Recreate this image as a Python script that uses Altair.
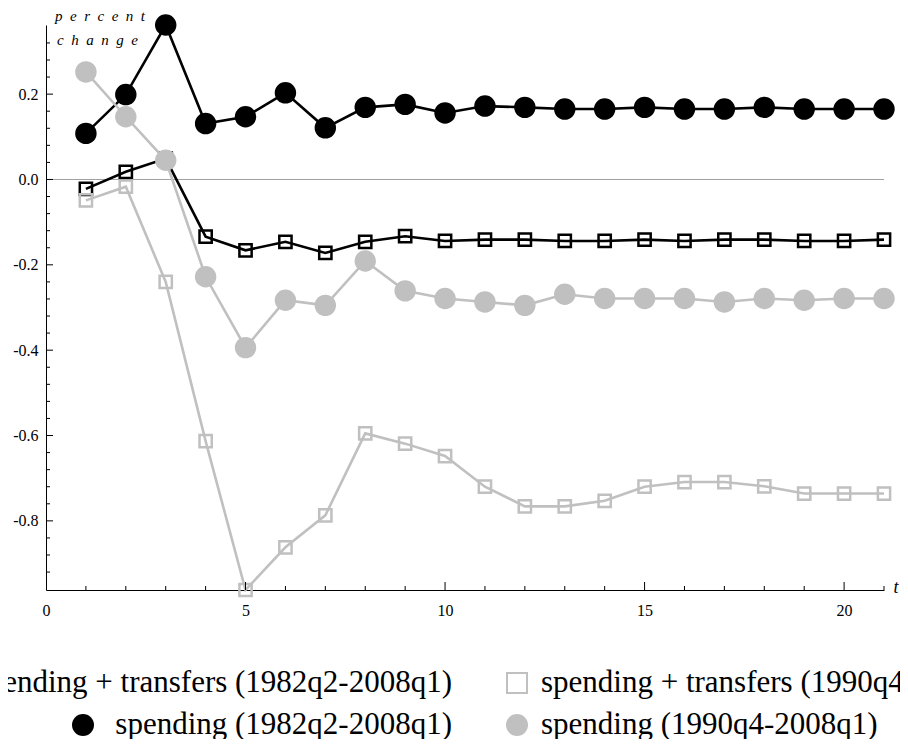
import altair as alt
import pandas as pd

# ---------------- data ----------------
t = list(range(1, 22))
spend_trans_8208 = [-0.022, 0.018, 0.049, -0.134, -0.166, -0.146, -0.172, -0.146, -0.133, -0.144,
                    -0.141, -0.141, -0.144, -0.144, -0.141, -0.144, -0.141, -0.141, -0.144, -0.144, -0.141]
spend_trans_9008 = [-0.049, -0.017, -0.240, -0.613, -0.962, -0.862, -0.787, -0.595, -0.619, -0.648,
                    -0.720, -0.766, -0.766, -0.753, -0.720, -0.709, -0.709, -0.719, -0.736, -0.736, -0.736]
spend_8208 = [0.108, 0.199, 0.362, 0.131, 0.147, 0.203, 0.121, 0.169, 0.176, 0.156,
              0.172, 0.169, 0.165, 0.165, 0.169, 0.165, 0.165, 0.169, 0.165, 0.165, 0.165]
spend_9008 = [0.252, 0.147, 0.045, -0.228, -0.394, -0.283, -0.295, -0.191, -0.261, -0.279,
              -0.287, -0.295, -0.269, -0.279, -0.279, -0.279, -0.287, -0.279, -0.283, -0.279, -0.279]

series_names = [
    "spending + transfers (1982q2-2008q1)",
    "spending + transfers (1990q4-2008q1)",
    "spending (1982q2-2008q1)",
    "spending (1990q4-2008q1)",
]
series_values = [spend_trans_8208, spend_trans_9008, spend_8208, spend_9008]

x_label_values = [0, 5, 10, 15, 20]
x_major_ticks = [5, 10, 15, 20]
x_minor_ticks = [1, 2, 3, 4, 6, 7, 8, 9, 11, 12, 13, 14, 16, 17, 18, 19, 21]
y_label_values = [-0.8, -0.6, -0.4, -0.2, 0.0, 0.2]
y_major_ticks = [-0.8, -0.6, -0.4, -0.2, 0.0, 0.2]
y_minor_ticks = [-0.92, -0.88, -0.84, -0.76, -0.72, -0.68, -0.64, -0.56, -0.52, -0.48, -0.44,
                 -0.36, -0.32, -0.28, -0.24, -0.16, -0.12, -0.08, -0.04, 0.04, 0.08, 0.12,
                 0.16, 0.24, 0.28, 0.32]

# ---------------- styles / layout ----------------
W, H = 838, 565
FONT = "Liberation Serif"
GRAY = "#c0c0c0"
TICK_FS = 16
styles = [
    dict(color="black", shape="square", filled=False, size=150, sw=2.5),
    dict(color=GRAY, shape="square", filled=False, size=150, sw=2.5),
    dict(color="black", shape="circle", filled=True, size=460, sw=0),
    dict(color=GRAY, shape="circle", filled=True, size=460, sw=0),
]

rows = []
for name, vals in zip(series_names, series_values):
    for ti, v in zip(t, vals):
        rows.append({"t": ti, "value": v, "series": name})
df = pd.DataFrame(rows)

all_vals = [v for s in series_values for v in s]
ymin, ymax = min(all_vals), max(all_vals)

xs = alt.Scale(domain=[0, 21], nice=False, zero=False)
ys = alt.Scale(domain=[ymin, ymax], nice=False, zero=False)

x_axis = alt.Axis(values=x_label_values, ticks=False, tickSize=0, labelPadding=12,
                  domainColor="black", domainWidth=1, labelFont=FONT, labelFontSize=TICK_FS,
                  labelColor="black", grid=False, title=None, labelFlush=False,
                  labelOverlap=False, format="d")
y_axis = alt.Axis(values=y_label_values, ticks=False, tickSize=0, labelPadding=8,
                  domainColor="black", domainWidth=1, labelFont=FONT, labelFontSize=TICK_FS,
                  labelColor="black", grid=False, title=None, labelFlush=False,
                  labelOverlap=False,
                  labelExpr="datum.value < 0 ? '-' + format(-datum.value, '.1f') : format(datum.value, '.1f')")

X = alt.X("t:Q", scale=xs, axis=x_axis)
Y = alt.Y("value:Q", scale=ys, axis=y_axis)

layers = []

# zero reference line
zero = alt.Chart(pd.DataFrame({"z": [0.0]})).mark_rule(color="#a0a0a0", strokeWidth=1).encode(
    y=alt.Y("z:Q", scale=ys, axis=y_axis), x=alt.value(0), x2=alt.value(W))
layers.append(zero)

# series: line then markers, in reference drawing order
for name, st in zip(series_names, styles):
    d = df[df["series"] == name]
    line = alt.Chart(d).mark_line(color=st["color"], strokeWidth=2.6).encode(x=X, y=Y)
    if st["filled"]:
        pts = alt.Chart(d).mark_point(shape=st["shape"], filled=True, size=st["size"],
                                      color=st["color"], opacity=1).encode(x=X, y=Y)
    else:
        pts = alt.Chart(d).mark_point(shape=st["shape"], filled=False, size=st["size"],
                                      stroke=st["color"], strokeWidth=st["sw"], opacity=1).encode(x=X, y=Y)
    layers += [line, pts]

# inward ticks
layers.append(alt.Chart(pd.DataFrame({"v": y_major_ticks})).mark_rule(color="black", strokeWidth=1).encode(
    y=alt.Y("v:Q", scale=ys, axis=y_axis), x=alt.value(0), x2=alt.value(7)))
layers.append(alt.Chart(pd.DataFrame({"v": y_minor_ticks})).mark_rule(color="black", strokeWidth=1).encode(
    y=alt.Y("v:Q", scale=ys, axis=y_axis), x=alt.value(0), x2=alt.value(4)))
layers.append(alt.Chart(pd.DataFrame({"v": x_major_ticks})).mark_rule(color="black", strokeWidth=1).encode(
    x=alt.X("v:Q", scale=xs, axis=x_axis), y=alt.value(H), y2=alt.value(H - 8)))
layers.append(alt.Chart(pd.DataFrame({"v": x_minor_ticks})).mark_rule(color="black", strokeWidth=1).encode(
    x=alt.X("v:Q", scale=xs, axis=x_axis), y=alt.value(H), y2=alt.value(H - 4)))

# axis titles (letter-spaced italic, as in the reference)
SP = "\u2002"
title_df = pd.DataFrame({"s": [SP.join("percent"), SP.join("change")]})
layers.append(alt.Chart(title_df.iloc[[0]]).mark_text(
    align="left", baseline="alphabetic", font=FONT, fontSize=15, fontStyle="italic", color="black").encode(
    text="s:N", x=alt.value(9), y=alt.value(-4)))
layers.append(alt.Chart(title_df.iloc[[1]]).mark_text(
    align="left", baseline="alphabetic", font=FONT, fontSize=15, fontStyle="italic", color="black").encode(
    text="s:N", x=alt.value(11), y=alt.value(20)))
title_x = alt.Chart(pd.DataFrame({"s": ["t"]})).mark_text(
    align="center", baseline="middle", font=FONT, fontSize=18, fontStyle="italic", color="black").encode(
    text="s:N", x=alt.value(W + 12), y=alt.value(H - 2))
layers.append(title_x)

# legend (two columns, two rows)
LEG_FS = 31
leg_pos = [  # (symbol x, text x, text align, row y)
    (-92, 406, "right", 658),
    (471, 495, "left", 658),
    (37, 406, "right", 700),
    (471, 495, "left", 700),
]
leg_sizes = [400, 400, 484, 484]
for name, st, (sx, tx, al, ry), sz in zip(series_names, styles, leg_pos, leg_sizes):
    one = pd.DataFrame({"label": [name]})
    if st["filled"]:
        sym = alt.Chart(one).mark_point(shape=st["shape"], filled=True, size=sz, color=st["color"],
                                        opacity=1).encode(x=alt.value(sx), y=alt.value(ry))
    else:
        sym = alt.Chart(one).mark_point(shape=st["shape"], filled=False, size=sz, stroke=st["color"],
                                        strokeWidth=2, opacity=1).encode(x=alt.value(sx), y=alt.value(ry))
    txt = alt.Chart(one).mark_text(align=al, baseline="middle", font=FONT, fontSize=LEG_FS,
                                   color="black").encode(text="label:N", x=alt.value(tx), y=alt.value(ry))
    layers += [sym, txt]

chart = alt.layer(*layers).properties(
    width=W, height=H,
    autosize=alt.AutoSizeParams(type="none"),
    padding={"left": 38, "top": 17, "right": 16, "bottom": 149},
    background="white",
).configure_view(stroke=None).configure_axis(
    labelFont=FONT, labelFontSize=TICK_FS, labelColor="black"
)

chart.save("out.html", embed_options={"renderer": "svg", "actions": False})
